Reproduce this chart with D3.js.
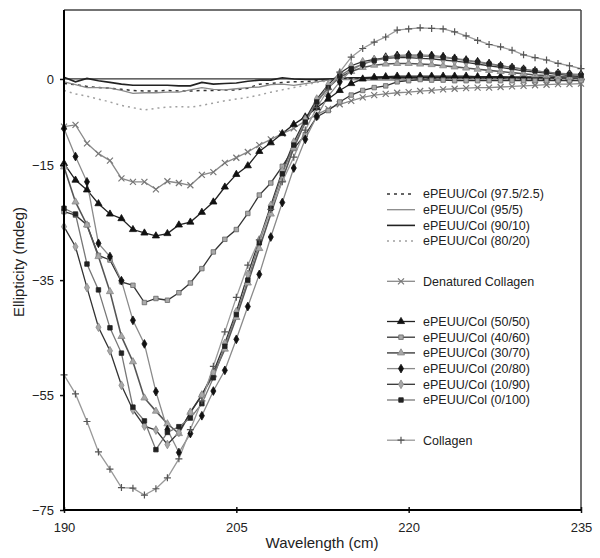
<!DOCTYPE html>
<html><head><meta charset="utf-8">
<script src="https://cdn.jsdelivr.net/npm/d3@7"></script>
<style>body{margin:0;background:#fff}svg{display:block;font-family:Arial,"Liberation Sans",sans-serif}</style>
</head><body><svg id="c" width="600" height="558"></svg>
<script>
const wavelength = [190,191,192,193,194,195,196,197,198,199,200,201,202,203,204,205,206,207,208,209,210,211,212,213,214,215,216,217,218,219,220,221,222,223,224,225,226,227,228,229,230,231,232,233,234,235];
const xTicks = [190, 205, 220, 235];
const yTicks = [-75, -55, -35, -15, 0];

const s97 = [-0.8,-1.0,-1.3,-1.5,-1.6,-1.8,-2.0,-2.1,-2.1,-2.0,-2.1,-2.1,-2.0,-2.0,-1.9,-1.9,-1.6,-0.9,-0.8,-0.6,-0.5,-0.5,-0.3,-0.2,0.0,0.1,0.2,0.2,0.2,0.2,0.2,0.2,0.2,0.2,0.2,0.2,0.2,0.2,0.2,0.2,0.2,0.2,0.2,0.2,0.2,0.2];
const s95 = [-0.5,-1.0,-1.5,-1.5,-1.6,-2.0,-2.5,-2.4,-2.4,-2.3,-2.3,-1.9,-1.5,-1.8,-1.9,-1.7,-1.5,-1.4,-1.0,-0.9,-1.1,-0.8,-0.5,-0.2,-0.1,-0.1,-0.2,-0.2,-0.2,-0.2,-0.2,-0.2,-0.2,-0.2,-0.2,-0.2,-0.2,-0.2,-0.2,-0.2,-0.2,-0.2,-0.2,-0.2,-0.2,-0.2];
const s90 = [0.3,-0.5,0.1,-0.3,-0.6,-0.9,-1.1,-1.1,-1.1,-1.1,-1.2,-1.2,-0.6,-0.9,-0.8,-0.7,-0.4,-0.2,-0.2,0.2,0.0,-0.1,-0.1,0.0,0.1,0.2,0.2,0.3,0.3,0.3,0.3,0.3,0.3,0.3,0.3,0.3,0.3,0.3,0.3,0.3,0.3,0.3,0.3,0.3,0.3,0.3];
const s80 = [-2.0,-2.6,-3.0,-3.5,-4.0,-4.6,-5.0,-5.4,-5.1,-4.9,-4.8,-4.9,-4.6,-4.2,-3.8,-3.5,-3.2,-2.8,-2.3,-1.9,-1.5,-1.1,-0.6,-0.3,0.0,0.0,-0.1,-0.1,-0.1,-0.1,-0.1,-0.1,-0.1,-0.1,-0.1,-0.1,-0.1,-0.1,-0.1,-0.1,-0.1,-0.1,-0.1,-0.1,-0.1,-0.1];
const denatured = [-8.3,-8.0,-11.2,-13.0,-14.2,-17.3,-17.9,-17.9,-19.2,-17.8,-18.1,-18.5,-16.7,-16.2,-14.6,-13.7,-12.7,-11.5,-10.5,-9.5,-8.6,-7.3,-6.2,-5.2,-4.4,-3.8,-3.2,-2.8,-2.6,-2.4,-2.3,-2.1,-2.0,-1.8,-1.7,-1.6,-1.5,-1.5,-1.4,-1.3,-1.2,-1.1,-1.0,-0.9,-0.9,-0.8];
const c50 = [-14.7,-17.6,-19.3,-21.7,-23.5,-24.3,-26.2,-26.8,-27.3,-26.9,-25.4,-24.9,-23.2,-21.4,-18.8,-16.6,-15.1,-12.6,-11.1,-9.5,-7.9,-6.6,-5.0,-3.5,-2.0,-0.8,0.0,0.3,0.4,0.5,0.5,0.5,0.5,0.5,0.5,0.5,0.4,0.4,0.4,0.3,0.3,0.3,0.2,0.2,0.2,0.2];
const c40 = [-23.1,-23.7,-25.4,-30.7,-31.5,-35.3,-35.9,-38.9,-38.2,-38.5,-37.2,-35.5,-33.0,-30.1,-27.9,-26.2,-23.4,-20.2,-18.1,-15.2,-12.1,-9.7,-6.6,-5.5,-4.0,-2.8,-2.0,-1.5,-1.2,-0.5,-0.3,-0.1,-0.2,-0.2,-0.3,-0.3,-0.3,-0.3,-0.3,-0.3,-0.3,-0.3,-0.3,-0.3,-0.3,-0.3];
const c30 = [-15.3,-21.4,-25.4,-30.9,-37.0,-44.8,-49.2,-55.5,-57.8,-60.0,-61.7,-58.0,-55.0,-51.5,-47.0,-41.5,-35.5,-29.5,-23.5,-17.5,-12.0,-7.5,-4.0,-1.5,0.3,1.3,2.0,2.4,2.6,2.7,2.7,2.6,2.5,2.3,2.1,1.9,1.7,1.5,1.3,1.1,0.9,0.7,0.6,0.4,0.3,0.2];
const c20 = [-8.6,-13.5,-17.9,-28.6,-30.9,-35.1,-42.0,-46.1,-54.4,-61.0,-65.0,-61.7,-58.6,-54.3,-50.7,-45.3,-39.6,-34.0,-27.5,-21.5,-15.5,-10.5,-6.5,-3.0,-0.5,1.5,2.6,3.3,3.8,4.1,4.2,4.2,4.1,3.9,3.6,3.3,3.0,2.7,2.3,2.0,1.7,1.4,1.2,1.0,0.9,0.8];
const c10 = [-25.7,-29.2,-36.3,-43.2,-47.3,-53.3,-57.6,-60.4,-61.1,-63.6,-61.5,-58.0,-55.0,-51.0,-46.0,-40.5,-34.0,-28.0,-22.0,-16.0,-11.0,-7.0,-3.5,-1.0,1.0,2.3,3.0,3.4,3.6,3.7,3.7,3.6,3.5,3.3,3.1,2.9,2.6,2.3,2.0,1.7,1.4,1.2,1.0,0.8,0.6,0.4];
const c0 = [-22.5,-23.5,-32.2,-36.7,-43.3,-47.7,-57.1,-59.5,-64.5,-61.5,-60.5,-59.0,-56.5,-52.0,-46.5,-41.0,-35.0,-28.5,-22.5,-16.5,-11.5,-7.5,-4.0,-1.5,0.5,1.8,2.6,3.2,3.6,3.9,4.0,4.0,3.9,3.7,3.5,3.2,2.9,2.6,2.3,2.0,1.7,1.4,1.2,1.0,0.8,0.6];
const collagen = [-51.5,-54.8,-59.6,-64.9,-67.9,-71.1,-71.2,-72.4,-71.3,-69.4,-66.1,-61.0,-56.0,-50.0,-44.0,-38.0,-32.4,-28.0,-22.7,-17.9,-13.6,-8.9,-5.0,-1.8,1.2,3.8,5.3,6.4,7.3,8.5,8.7,8.9,8.8,8.7,8.2,7.5,6.7,6.0,5.6,5.0,4.2,3.7,3.3,2.7,2.3,1.8];

const seriesNames = ["ePEUU/Col (97.5/2.5)","ePEUU/Col (95/5)","ePEUU/Col (90/10)","ePEUU/Col (80/20)","Denatured Collagen","ePEUU/Col (50/50)","ePEUU/Col (40/60)","ePEUU/Col (30/70)","ePEUU/Col (20/80)","ePEUU/Col (10/90)","ePEUU/Col (0/100)","Collagen"];
const seriesValues = [s97,s95,s90,s80,denatured,c50,c40,c30,c20,c10,c0,collagen];

const styles = [
  {line:"#333", w:1.5, dash:"3,4", marker:null},
  {line:"#8a8a8a", w:1.3, dash:null, marker:null},
  {line:"#222", w:1.6, dash:null, marker:null},
  {line:"#a0a0a0", w:1.5, dash:"2,4", marker:null},
  {line:"#8a8a8a", w:1.3, dash:null, marker:"x", fill:"none", stroke:"#777"},
  {line:"#222", w:1.3, dash:null, marker:"triangle", fill:"#111", stroke:"#111"},
  {line:"#333", w:1.3, dash:null, marker:"square", fill:"#aaa", stroke:"#666"},
  {line:"#555", w:1.6, dash:null, marker:"triangle", fill:"#a8a8a8", stroke:"#888"},
  {line:"#8a8a8a", w:1.3, dash:null, marker:"diamond", fill:"#111", stroke:"#111"},
  {line:"#333", w:1.3, dash:null, marker:"diamond", fill:"#a8a8a8", stroke:"#888"},
  {line:"#777", w:1.3, dash:null, marker:"square", fill:"#222", stroke:"#222"},
  {line:"#999", w:1.3, dash:null, marker:"plus", fill:"none", stroke:"#555"}
];

const svg = d3.select("#c");
const x = d3.scaleLinear().domain([190,235]).range([64,581]);
const y = d3.scaleLinear().domain([-75,12]).range([510,10]);

// frame
svg.append("line").attr("x1",64).attr("x2",581).attr("y1",10).attr("y2",10).attr("stroke","#444").attr("stroke-width",1.5);
svg.append("line").attr("x1",581).attr("x2",581).attr("y1",10).attr("y2",510).attr("stroke","#444").attr("stroke-width",1.5);
svg.append("line").attr("x1",64).attr("x2",581).attr("y1",y(0)).attr("y2",y(0)).attr("stroke","#333").attr("stroke-width",1.2);

function markerPath(type){
  if(type==="triangle") return d3.symbol(d3.symbolTriangle, 22)();
  if(type==="square") return d3.symbol(d3.symbolSquare, 20)();
  if(type==="diamond") return d3.symbol(d3.symbolDiamond, 22)();
  if(type==="plus") return "M-3.5,0H3.5M0,-3.5V3.5";
  if(type==="x") return "M-3,-3L3,3M-3,3L3,-3";
  return "";
}

const line = d3.line().x((d,i)=>x(wavelength[i])).y(d=>y(d));
const plot = svg.append("g");
seriesValues.forEach((vals,k)=>{
  const st = styles[k];
  plot.append("path").attr("d", line(vals)).attr("fill","none")
    .attr("stroke", st.line).attr("stroke-width", st.w)
    .attr("stroke-dasharray", st.dash);
});
seriesValues.forEach((vals,k)=>{
  const st = styles[k];
  if(!st.marker) return;
  plot.selectAll(null).data(vals).enter().append("path")
    .attr("transform",(d,i)=>`translate(${x(wavelength[i])},${y(d)})`)
    .attr("d", markerPath(st.marker))
    .attr("fill", st.fill).attr("stroke", st.stroke).attr("stroke-width", st.marker==="plus"||st.marker==="x"?1.2:0.8);
});

// axes
const yAxis = svg.append("g").attr("transform","translate(64,0)")
  .call(d3.axisLeft(y).tickValues(yTicks).tickFormat(d3.format("d")).tickSize(4).tickPadding(6));
yAxis.select(".domain").remove();
yAxis.selectAll("text").attr("font-size",13).attr("fill","#222").attr("font-family","Arial, 'Liberation Sans', sans-serif");
yAxis.selectAll("line").attr("stroke","#111").attr("stroke-width",1.5);

const xAxis = svg.append("g").attr("transform","translate(0,510)")
  .call(d3.axisBottom(x).tickValues(xTicks).tickFormat(d3.format("d")).tickSizeInner(3).tickSizeOuter(0).tickPadding(10));
xAxis.select(".domain").remove();
xAxis.selectAll("text").attr("font-size",13).attr("fill","#222").attr("font-family","Arial, 'Liberation Sans', sans-serif");
xAxis.selectAll("line").attr("stroke","#111").attr("stroke-width",1.5).attr("y1",-3);

svg.append("line").attr("x1",64).attr("x2",64).attr("y1",10).attr("y2",511).attr("stroke","#000").attr("stroke-width",2);
svg.append("line").attr("x1",63).attr("x2",581).attr("y1",510).attr("y2",510).attr("stroke","#000").attr("stroke-width",2);

svg.append("text").attr("x",322).attr("y",548).attr("text-anchor","middle")
  .attr("font-size",15).attr("fill","#222").text("Wavelength (cm)");
svg.append("text").attr("transform","translate(24,262) rotate(-90)").attr("text-anchor","middle")
  .attr("font-size",15).attr("fill","#222").text("Ellipticity (mdeg)");

// legend
const groupOf = [0,0,0,0,1,2,2,2,2,2,2,3];
const lg = svg.append("g");
seriesNames.forEach((name,k)=>{
  const st = styles[k];
  const ly = 194 + k*15.7 + groupOf[k]*24.5;
  lg.append("line").attr("x1",387).attr("x2",415).attr("y1",ly).attr("y2",ly)
    .attr("stroke",st.line).attr("stroke-width",st.w).attr("stroke-dasharray",st.dash);
  if(st.marker){
    lg.append("path").attr("transform",`translate(401,${ly})`).attr("d",markerPath(st.marker))
      .attr("fill",st.fill).attr("stroke",st.stroke).attr("stroke-width",st.marker==="plus"||st.marker==="x"?1.2:0.8);
  }
  lg.append("text").attr("x",423).attr("y",ly).attr("dy","0.35em").attr("font-size",12.5).attr("fill","#222").text(name);
});
</script></body></html>
